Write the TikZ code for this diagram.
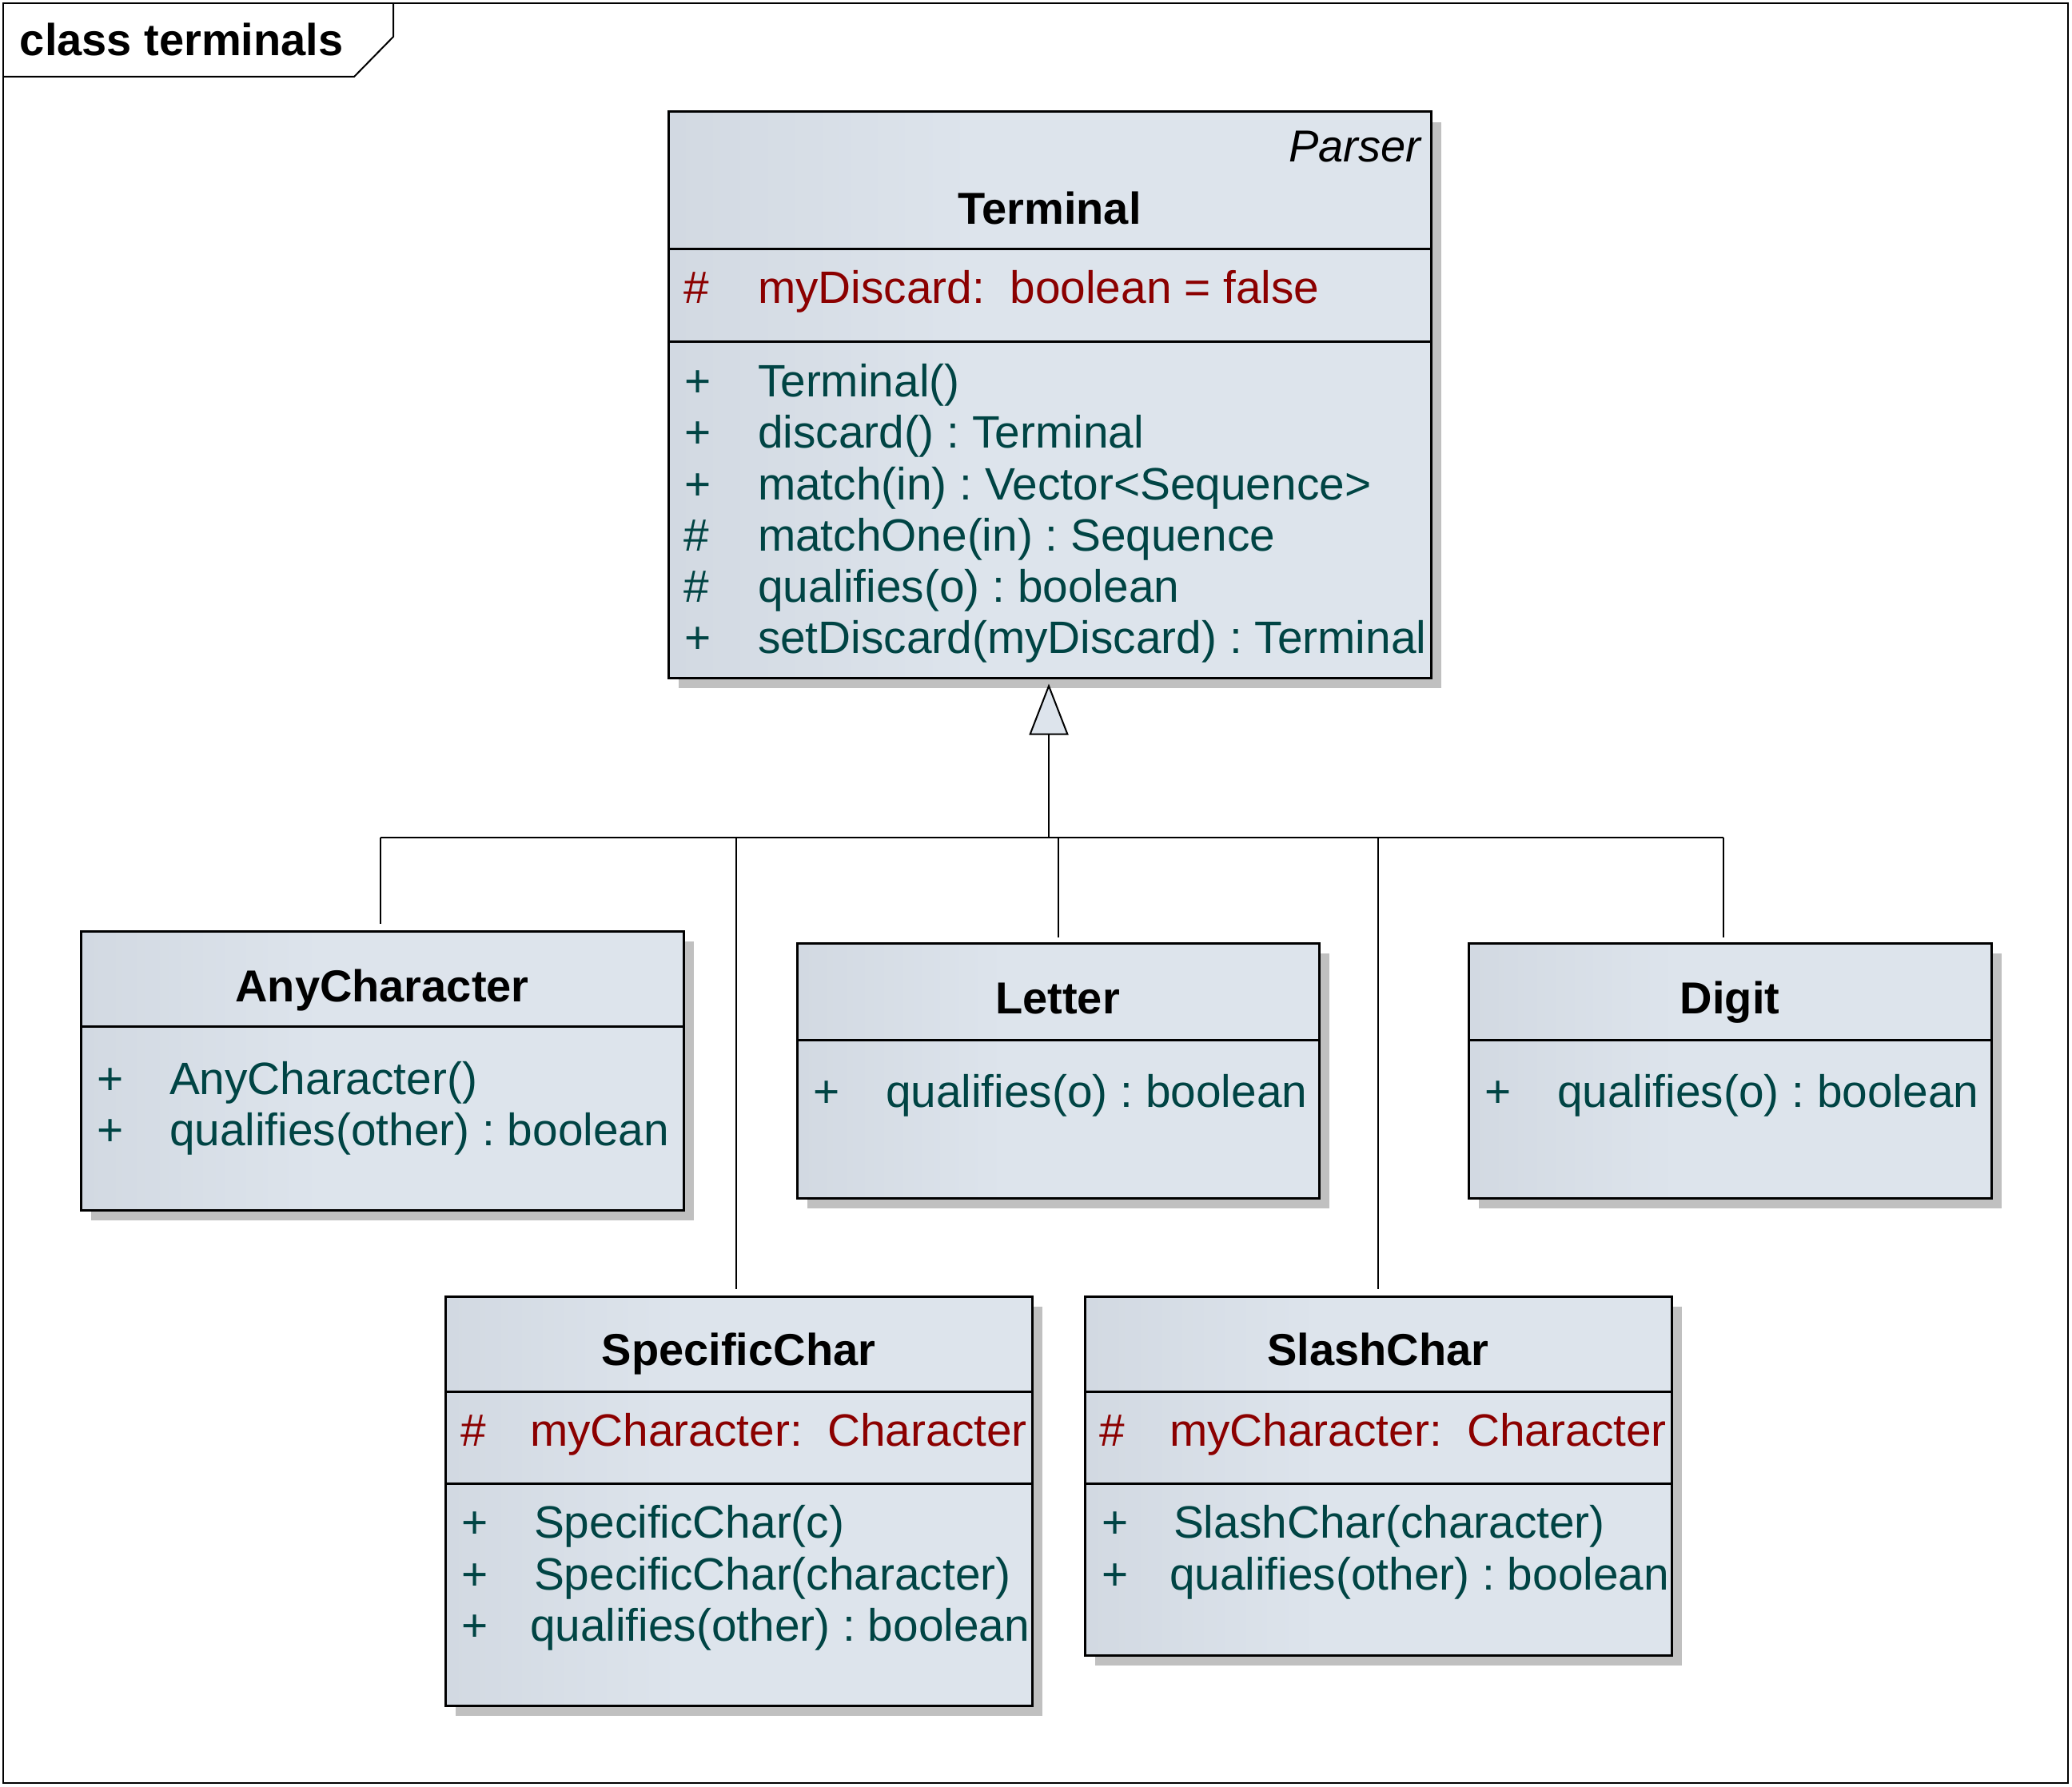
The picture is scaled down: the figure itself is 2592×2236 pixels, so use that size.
\documentclass[tikz,border=0pt]{standalone}
\usepackage{fontspec}
\setmainfont{Liberation Sans}
\usetikzlibrary{arrows.meta,shadows,fit}
\definecolor{umlA}{RGB}{196,203,213}
\definecolor{umlB}{RGB}{221,228,236}
\definecolor{opcol}{RGB}{0,68,68}
\definecolor{attcol}{RGB}{139,0,0}
\definecolor{shadowgray}{RGB}{192,192,192}
\pgfdeclarehorizontalshading{umlshade}{100bp}{color(0bp)=(umlA); color(45bp)=(umlB); color(100bp)=(umlB)}
\frenchspacing
\begin{document}
\begin{tikzpicture}[x=0.5pt,y=-0.5pt,
  classbox/.style={draw=black, line width=1.5pt, inner sep=0pt, shade, shading=umlshade,
    drop shadow={shadow xshift=6.5pt, shadow yshift=-6.5pt, fill=shadowgray, opacity=1}},
  divline/.style={draw=black, line width=1.5pt},
  conn/.style={draw=black, line width=1pt},
  frameline/.style={draw=black, line width=1pt},
  txt/.style={inner sep=0pt, outer sep=0pt, font=\fontsize{28.4}{32}\selectfont\frenchspacing},
  ttl/.style={txt, font=\fontsize{28}{32}\selectfont\bfseries, anchor=base},
  op/.style={txt, text=opcol, anchor=base west},
  att/.style={txt, text=attcol, anchor=base west}]
\useasboundingbox (0,0) rectangle (2592,2236);

% frame
\draw[frameline] (4,4) rectangle (2587,2231);
\draw[frameline] (492,4) -- (492,46) -- (443,96) -- (4,96);
\node[txt, font=\fontsize{28}{32}\selectfont\bfseries, anchor=base west] (diagtitle) at (25,70) {class terminals};

% Terminal
\node[classbox, fit={(836,140) (1790,848)}] (terminal) {};
\draw[divline] (836,312) -- (1790,312);
\draw[divline] (836,428) -- (1790,428);
\node[txt, font=\fontsize{28}{32}\selectfont\itshape, anchor=base east] (tparser) at (1777,203) {Parser};
\node[ttl] (tname) at (1313,281) {Terminal};
\node[att] (ta1s) at (855,380) {\#};
\node[att] (ta1) at (948,380) {myDiscard:\ \ boolean = false};
\node[op] (to1s) at (856,496) {+};
\node[op] (to1) at (948,496) {Terminal()};
\node[op] (to2s) at (856,560) {+};
\node[op] (to2) at (948,560) {discard() : Terminal};
\node[op] (to3s) at (856,625) {+};
\node[op] (to3) at (948,625) {match(in) : Vector<Sequence>};
\node[op] (to4s) at (855,689) {\#};
\node[op] (to4) at (948,689) {matchOne(in) : Sequence};
\node[op] (to5s) at (855,753) {\#};
\node[op] (to5) at (948,753) {qualifies(o) : boolean};
\node[op] (to6s) at (856,817) {+};
\node[op] (to6) at (948,817) {setDiscard(myDiscard) : Terminal};

% AnyCharacter
\node[classbox, fit={(101,1165) (855,1514)}] (anychar) {};
\draw[divline] (101,1284) -- (855,1284);
\node[ttl] (aname) at (478,1253) {AnyCharacter};
\node[op] (ao1s) at (121,1369) {+};
\node[op] (ao1) at (212,1369) {AnyCharacter()};
\node[op] (ao2s) at (121,1433) {+};
\node[op] (ao2) at (212,1433) {qualifies(other) : boolean};

% Letter
\node[classbox, fit={(997,1180) (1650,1499)}] (letter) {};
\draw[divline] (997,1301) -- (1650,1301);
\node[ttl] (lname) at (1323,1268) {Letter};
\node[op] (lo1s) at (1017,1385) {+};
\node[op] (lo1) at (1108,1385) {qualifies(o) : boolean};

% Digit
\node[classbox, fit={(1837,1180) (2491,1499)}] (digit) {};
\draw[divline] (1837,1301) -- (2491,1301);
\node[ttl] (dname) at (2164,1268) {Digit};
\node[op] (do1s) at (1857,1385) {+};
\node[op] (do1) at (1948,1385) {qualifies(o) : boolean};

% SpecificChar
\node[classbox, fit={(557,1622) (1291,2134)}] (specific) {};
\draw[divline] (557,1741) -- (1291,1741);
\draw[divline] (557,1856) -- (1291,1856);
\node[ttl] (sname) at (924,1708) {SpecificChar};
\node[att] (sa1s) at (576,1809) {\#};
\node[att] (sa1) at (663,1809) {myCharacter:\ \ Character};
\node[op] (so1s) at (577,1924) {+};
\node[op] (so1) at (668,1924) {SpecificChar(c)};
\node[op] (so2s) at (577,1989) {+};
\node[op] (so2) at (668,1989) {SpecificChar(character)};
\node[op] (so3s) at (577,2053) {+};
\node[op] (so3) at (663,2053) {qualifies(other) : boolean};

% SlashChar
\node[classbox, fit={(1357,1622) (2091,2071)}] (slash) {};
\draw[divline] (1357,1741) -- (2091,1741);
\draw[divline] (1357,1856) -- (2091,1856);
\node[ttl] (shname) at (1724,1708) {SlashChar};
\node[att] (sha1s) at (1375,1809) {\#};
\node[att] (sha1) at (1463,1809) {myCharacter:\ \ Character};
\node[op] (sho1s) at (1378,1924) {+};
\node[op] (sho1) at (1468,1924) {SlashChar(character)};
\node[op] (sho2s) at (1378,1989) {+};
\node[op] (sho2) at (1463,1989) {qualifies(other) : boolean};

% connectors
\coordinate (bus) at (1312,1048);
\coordinate (jA) at (476,1048);
\coordinate (jS) at (921,1048);
\coordinate (jL) at (1324,1048);
\coordinate (jH) at (1724,1048);
\coordinate (jD) at (2156,1048);
\draw[conn, -{Triangle[length=32pt, width=24.5pt, fill=umlB, line width=1pt]}, shorten >=3pt] (bus) -- (bus |- terminal.south);
\draw[conn] (jA) -- (jD);
\draw[conn, shorten >=4pt] (jA) -- (jA |- anychar.north);
\draw[conn, shorten >=4pt] (jS) -- (jS |- specific.north);
\draw[conn, shorten >=3pt] (jL) -- (jL |- letter.north);
\draw[conn, shorten >=4pt] (jH) -- (jH |- slash.north);
\draw[conn, shorten >=3pt] (jD) -- (jD |- digit.north);
\end{tikzpicture}
\end{document}
